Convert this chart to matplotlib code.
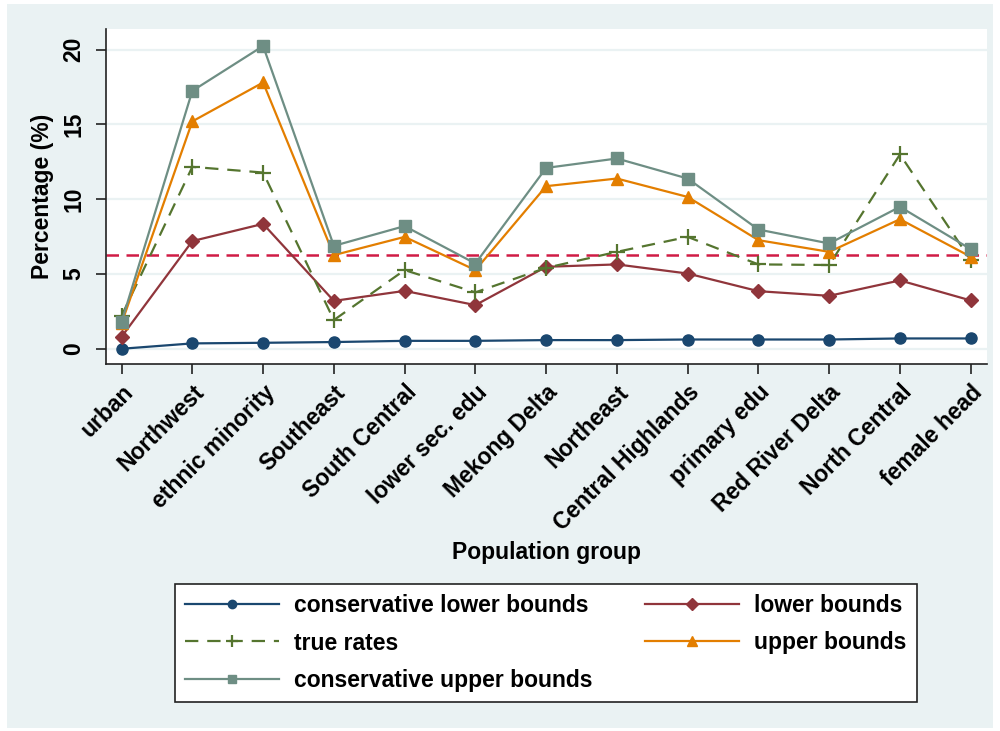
import numpy as np
import matplotlib.pyplot as plt
from matplotlib.patches import Rectangle

plt.rcParams['font.family'] = ['Liberation Sans', 'DejaVu Sans']
plt.rcParams['font.weight'] = 'bold'
plt.rcParams['axes.labelweight'] = 'bold'

groups = ["urban", "Northwest", "ethnic minority", "Southeast", "South Central",
          "lower sec. edu", "Mekong Delta", "Northeast", "Central Highlands",
          "primary edu", "Red River Delta", "North Central", "female head"]

cons_lower = [0.0, 0.36, 0.40, 0.45, 0.53, 0.53, 0.58, 0.58, 0.62, 0.62, 0.62, 0.69, 0.69]
lower = [0.8, 7.2, 8.35, 3.2, 3.87, 2.92, 5.48, 5.64, 5.03, 3.85, 3.54, 4.57, 3.23]
true_rates = [2.2, 12.16, 11.78, 1.92, 5.26, 3.77, 5.41, 6.48, 7.48, 5.64, 5.6, 12.99, 5.93]
upper = [1.7, 15.2, 17.8, 6.26, 7.48, 5.26, 10.87, 11.38, 10.15, 7.26, 6.48, 8.66, 6.15]
cons_upper = [1.8, 17.24, 20.24, 6.88, 8.2, 5.7, 12.09, 12.72, 11.38, 7.97, 7.04, 9.49, 6.66]
overall_rate = 6.3

bg = '#eaf2f3'
fs = 16.5
x = np.arange(len(groups))

fig = plt.figure(figsize=(10, 7.31), dpi=100, facecolor='white')
fig.patches.append(Rectangle((0.007, 0.004), 0.986, 0.99, transform=fig.transFigure,
                             facecolor=bg, edgecolor='none', zorder=-10))
ax = fig.add_axes([0.106, 0.502, 0.881, 0.458])
ax.set_facecolor('white')

for v in [0, 5, 10, 15, 20]:
    ax.axhline(v, color=bg, lw=1.6, zorder=0)
ax.axhline(overall_rate, color='#d01c45', lw=1.8, dashes=(5, 3), zorder=1)

l1, = ax.plot(x, cons_lower, color='#1a476f', lw=1.6, marker='o', ms=8,
              label='conservative lower bounds', zorder=3)
l2, = ax.plot(x, lower, color='#90353b', lw=1.6, marker='D', ms=7.5,
              label='lower bounds', zorder=3)
l3, = ax.plot(x, true_rates, color='#55752f', lw=1.6, marker='+', ms=11, mew=1.6,
              dashes=(6, 4), label='true rates', zorder=3)
l4, = ax.plot(x, upper, color='#e37e00', lw=1.6, marker='^', ms=9,
              label='upper bounds', zorder=3)
l5, = ax.plot(x, cons_upper, color='#6e8e84', lw=1.6, marker='s', ms=8,
              label='conservative upper bounds', zorder=3)

ax.set_xlim(-0.22, 12.23)
ax.set_ylim(-1.02, 21.36)
ax.set_yticks([0, 5, 10, 15, 20])
ax.set_yticklabels(['0', '5', '10', '15', '20'], rotation=90, va='center', fontsize=fs)
ax.set_xticks(x)
ax.set_xticklabels(groups, rotation=45, ha='right', rotation_mode='anchor', fontsize=fs)
ax.tick_params(axis='both', length=7, width=1.2, color='#222222')
ax.tick_params(axis='y', pad=8)
ax.tick_params(axis='x', pad=5)

for s in ['top', 'right']:
    ax.spines[s].set_visible(False)
for s in ['left', 'bottom']:
    ax.spines[s].set_color('#222222')
    ax.spines[s].set_linewidth(1.2)

ax.set_ylabel('Percentage (%)', fontsize=fs, labelpad=6)
fig.text(0.546, 1 - 553 / 731, 'Population group', fontsize=fs, ha='center', va='center')

# legend filled column-wise, so order handles to read row by row
leg = fig.legend([l1, l3, l5, l2, l4],
                 ['conservative lower bounds', 'true rates', 'conservative upper bounds',
                  'lower bounds', 'upper bounds'],
                 ncol=2, loc='center', bbox_to_anchor=(0.546, 1 - 643 / 731),
                 fontsize=fs, frameon=True, fancybox=False, framealpha=1,
                 handlelength=4.1, handletextpad=0.65, columnspacing=2.3,
                 labelspacing=0.62, borderpad=0.45, markerscale=0.75)
leg.get_frame().set_edgecolor('#222222')
leg.get_frame().set_linewidth(1.2)

fig.savefig('out.png', dpi=100, facecolor='white')
